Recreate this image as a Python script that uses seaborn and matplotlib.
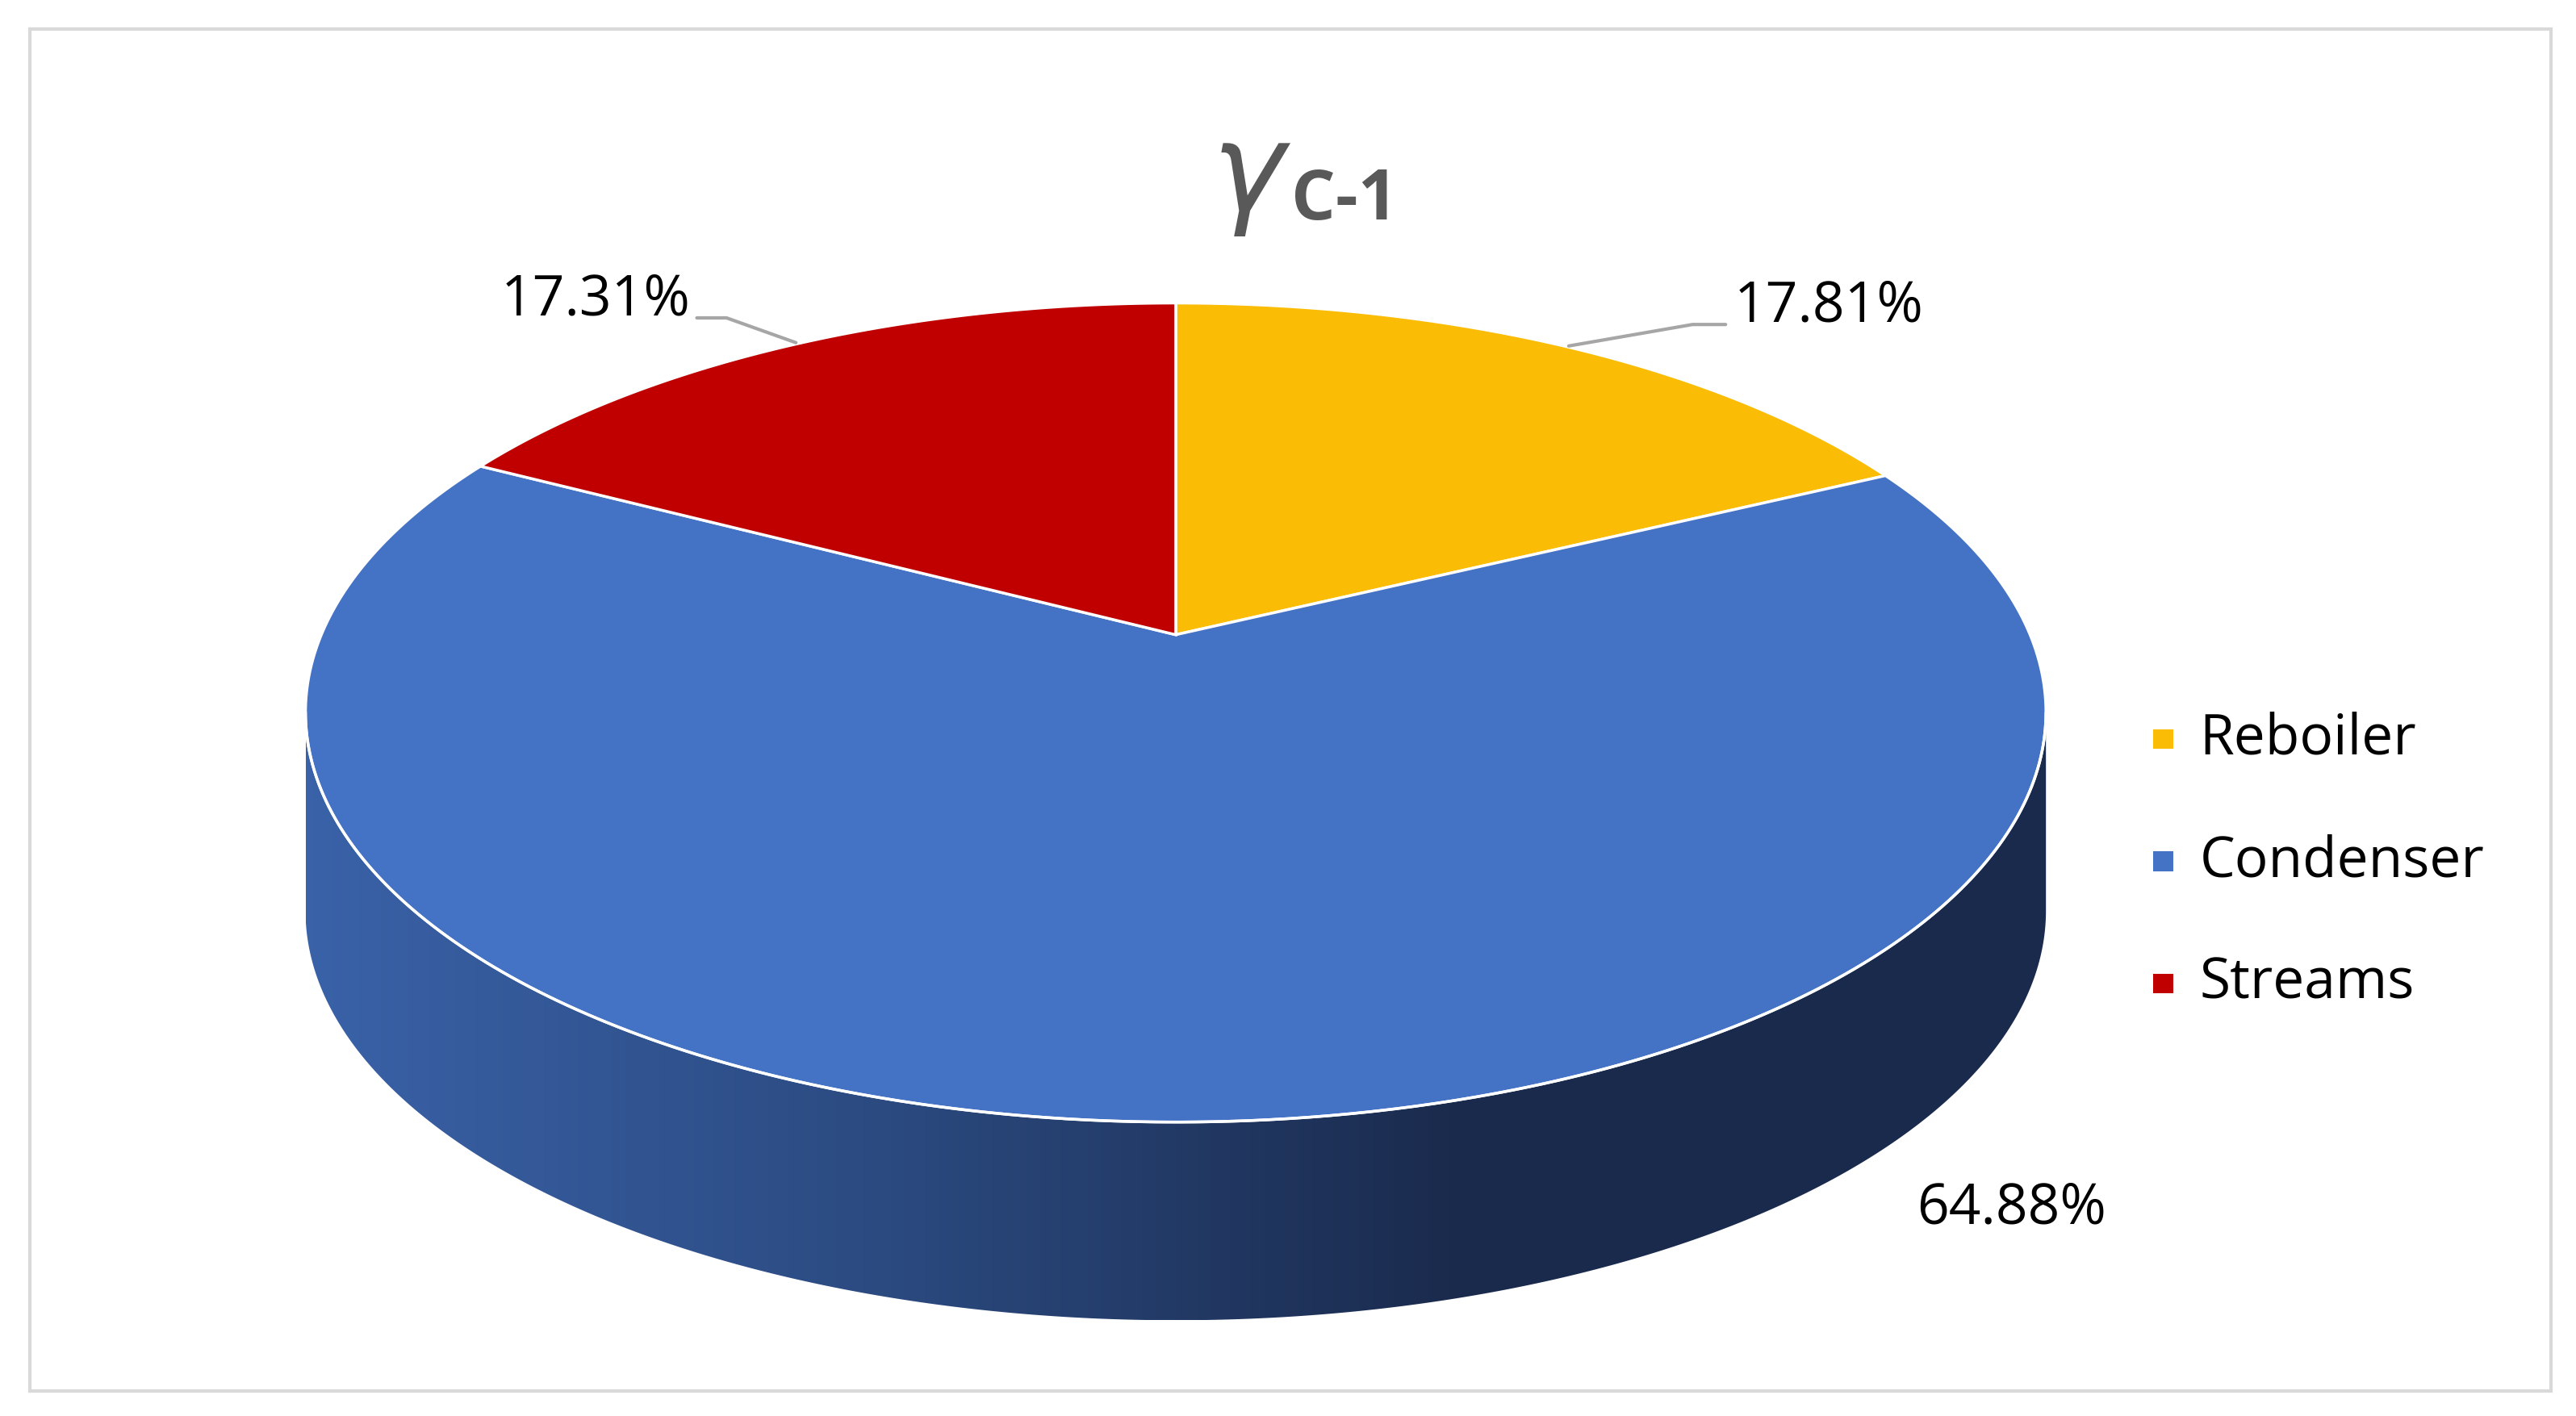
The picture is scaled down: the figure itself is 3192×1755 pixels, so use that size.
import numpy as np
import matplotlib
matplotlib.use("Agg")
import matplotlib.pyplot as plt
import seaborn as sns
from matplotlib.patches import Polygon, Rectangle
from matplotlib.colors import LinearSegmentedColormap

categories = ["Reboiler", "Condenser", "Streams"]
values = [17.81, 64.88, 17.31]
labels = ["17.81%", "64.88%", "17.31%"]
colors = ["#FBBC05", "#4472C4", "#C00000"]

sns.set_theme(style="white")
plt.rcParams['font.family'] = ['Open Sans', 'DejaVu Sans']

fig = plt.figure(figsize=(31.92, 17.56), dpi=100)
ax = fig.add_axes([0, 0, 1, 1])
W, H = 1560, 858
ax.set_xlim(0, W); ax.set_ylim(H, 0); ax.axis("off")
ax.add_patch(Rectangle((18, 18), 1527, 825, fill=False, ec="#D9D9D9", lw=3))

cx, cy, a, b, d = 712, 432, 527, 248, 120
k = 0.19  # perspective

# projective image of the unit circle, fitted to the ellipse box
phi_all = np.linspace(0, 2*np.pi, 2000)
def raw(phi):
    u, v = np.cos(phi), np.sin(phi)
    return u/(1+k*v), v/(1+k*v)
RX, RY = raw(phi_all)
xmin, xmax, ymin, ymax = RX.min(), RX.max(), RY.min(), RY.max()
def proj(X, Y):
    px = cx - a + (X - xmin)/(xmax - xmin)*2*a
    py = cy + b - (Y - ymin)/(ymax - ymin)*2*b
    return px, py
def pt(phi):
    return proj(*raw(phi))
apex = proj(0.0, 0.0)

# side (front half) with gradient
ox, oy = pt(phi_all)
il, ir = np.argmin(ox), np.argmax(ox)
t = np.linspace(phi_all[il], phi_all[ir] if phi_all[ir] > phi_all[il] else phi_all[ir] + 2*np.pi, 400)
tx, ty = pt(t)
top = np.column_stack([tx, ty])
bot = np.column_stack([tx[::-1], ty[::-1] + d])
side = Polygon(np.vstack([top, bot]), closed=True, fc="none", ec="none")
ax.add_patch(side)
cmap = LinearSegmentedColormap.from_list("g", ["#3A62A8", "#2B4A80", "#1A2A4C", "#1B2B4E"])
grad = np.linspace(0, 1, 256).reshape(1, -1)
im = ax.imshow(grad, cmap=cmap, extent=(cx-a, cx+a, cy+b+d, cy-40), aspect="auto", zorder=1)
im.set_clip_path(side)
ax.plot(tx, ty, color="white", lw=2.5, zorder=3)

# top wedges (clockwise from 90deg)
start = np.pi/2
fr = np.array(values)/sum(values)
for f, c in zip(fr, colors):
    end = start - f*2*np.pi
    tt = np.linspace(start, end, 300)
    xs, ys = pt(tt)
    poly = np.vstack([[apex[0], apex[1]], np.column_stack([xs, ys])])
    ax.add_patch(Polygon(poly, closed=True, fc=c, ec="white", lw=2.5, zorder=2))
    start = end

fs = 50
gray = "#A6A6A6"
ax.plot([950, 1025, 1045], [210, 197, 197], color=gray, lw=3)
ax.text(1050, 186, labels[0], fontsize=fs, va="center", ha="left", color="black")
ax.plot([482, 440, 422], [208, 193, 193], color=gray, lw=3)
ax.text(418, 182, labels[2], fontsize=fs, va="center", ha="right", color="black")
ax.text(1218, 732, labels[1], fontsize=fs, va="center", ha="center", color="black")

ax.text(782, 108, r"$\gamma$", fontsize=110, ha="right", va="center", color="#595959")
ax.text(782, 122, "C-1", fontsize=62, ha="left", va="center", color="#595959", fontweight="bold")

for i, (cat, c) in enumerate(zip(categories, colors)):
    y = 448 + i*74
    ax.add_patch(Rectangle((1304, y-6), 12, 12, fc=c, ec="none"))
    ax.text(1332, y, cat, fontsize=fs, va="center", ha="left", color="black")

fig.savefig("out.png", dpi=100)
